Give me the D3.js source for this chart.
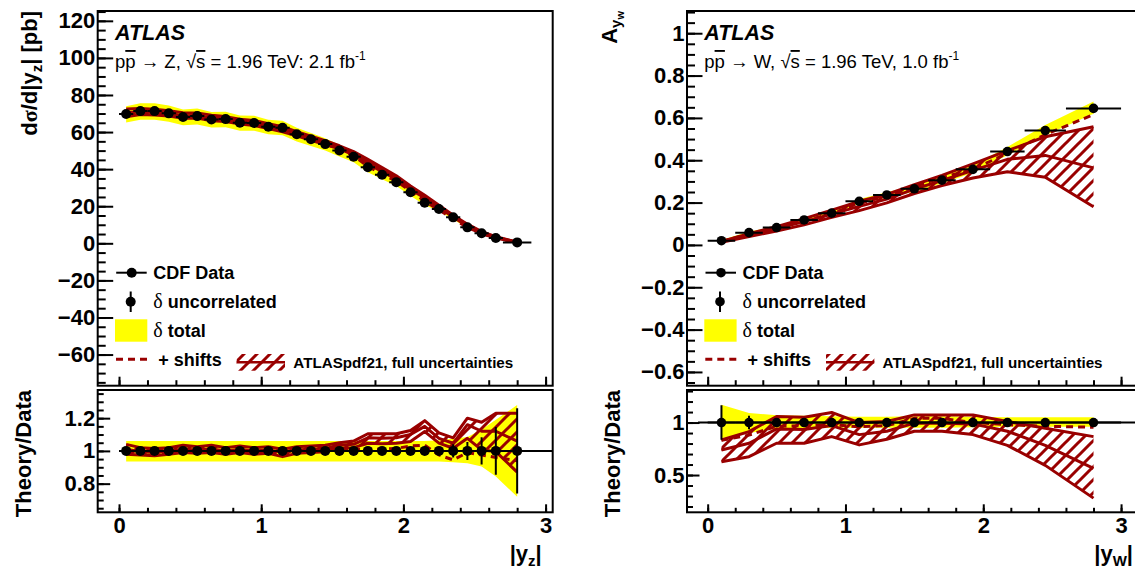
<!DOCTYPE html>
<html><head><meta charset="utf-8">
<script src="https://cdn.jsdelivr.net/npm/d3@7"></script>
<style>
body{margin:0;background:#fff;}
svg{display:block;font-family:"Liberation Sans",Arial,Helvetica,sans-serif;}
</style></head><body>
<svg id="c" width="1135" height="569"></svg>
<script>
// ---------------- DATA ----------------
// Z rapidity (left)
const zX   = [0.05,0.15,0.25,0.35,0.45,0.55,0.65,0.75,0.85,0.95,1.05,1.15,1.25,1.35,1.45,1.55,1.65,1.75,1.85,1.95,2.05,2.15,2.25,2.35,2.45,2.55,2.65,2.8];
const zXLo = [0,0.1,0.2,0.3,0.4,0.5,0.6,0.7,0.8,0.9,1.0,1.1,1.2,1.3,1.4,1.5,1.6,1.7,1.8,1.9,2.0,2.1,2.2,2.3,2.4,2.5,2.6,2.7];
const zXHi = [0.1,0.2,0.3,0.4,0.5,0.6,0.7,0.8,0.9,1.0,1.1,1.2,1.3,1.4,1.5,1.6,1.7,1.8,1.9,2.0,2.1,2.2,2.3,2.4,2.5,2.6,2.7,2.9];
const zData = [69.7,71.3,71.3,70.1,68.1,68.6,66.8,67.0,65.0,64.9,62.9,62.3,58.8,56.1,53.5,50.1,46.7,41.0,37.0,33.0,27.5,21.9,18.5,14.0,8.6,5.4,2.9,0.5];
const zErrRel = [0.006,0.006,0.006,0.006,0.006,0.006,0.006,0.006,0.006,0.006,0.006,0.006,0.006,0.006,0.006,0.006,0.006,0.006,0.006,0.008,0.012,0.018,0.025,0.04,0.055,0.083,0.146,0.26];
const zTotUp = [1.06,1.06,1.06,1.06,1.06,1.06,1.06,1.06,1.06,1.06,1.06,1.06,1.06,1.06,1.06,1.06,1.06,1.06,1.06,1.06,1.06,1.06,1.065,1.075,1.085,1.13,1.19,1.28];
const zTotLo = [0.935,0.935,0.935,0.935,0.935,0.935,0.935,0.935,0.935,0.935,0.935,0.935,0.935,0.935,0.935,0.935,0.935,0.935,0.935,0.935,0.935,0.935,0.935,0.93,0.925,0.905,0.843,0.72];
const zThUp  = [1.04,1.02,1.015,1.02,1.035,1.025,1.035,1.02,1.03,1.02,1.025,1.01,1.025,1.03,1.035,1.05,1.06,1.105,1.105,1.105,1.125,1.185,1.11,1.08,1.2,1.175,1.23,1.23];
const zThMid = [1.01,0.995,0.99,1.0,1.01,1.005,1.012,1.0,1.01,1.0,1.005,0.99,1.005,1.01,1.015,1.035,1.04,1.08,1.077,1.08,1.1,1.15,1.077,1.047,1.16,1.12,1.12,1.06];
const zThLo  = [0.98,0.975,0.97,0.98,0.99,0.985,0.99,0.98,0.99,0.98,0.985,0.965,0.985,0.99,0.995,1.016,1.02,1.047,1.043,1.047,1.057,1.118,1.047,1.016,1.077,1.006,0.996,0.87];
const zShift = [1.0,0.99,0.985,0.99,1.0,0.995,1.0,0.99,1.0,0.99,0.995,0.98,0.995,1.0,1.005,1.01,1.01,1.01,1.01,1.015,1.03,1.035,0.975,0.945,0.99,0.975,0.96,0.94];

// W asymmetry (right)
const wX   = [0.1,0.3,0.5,0.7,0.9,1.1,1.3,1.5,1.7,1.925,2.175,2.45,2.8];
const wXLo = [0,0.2,0.4,0.6,0.8,1.0,1.2,1.4,1.6,1.8,2.05,2.3,2.6];
const wXHi = [0.2,0.4,0.6,0.8,1.0,1.2,1.4,1.6,1.8,2.05,2.3,2.6,3.0];
const wData = [0.020,0.058,0.082,0.118,0.150,0.206,0.236,0.265,0.306,0.357,0.441,0.540,0.645];
const wErrRel = [0.165,0.065,0.03,0.03,0.04,0.03,0.03,0.03,0.025,0.025,0.025,0.025,0.03];
const wTotUp = [1.17,1.09,1.07,1.065,1.06,1.055,1.055,1.06,1.06,1.055,1.05,1.05,1.05];
const wTotLo = [0.85,0.9,0.94,0.945,0.95,0.95,0.95,0.95,0.95,0.955,0.96,0.96,0.96];
const wThUp  = [0.834,0.914,1.057,1.051,1.096,1.0,1.01,1.073,1.073,1.073,1.01,0.946,0.866];
const wThMid = [0.739,0.803,0.939,0.933,0.971,0.885,0.917,0.994,0.994,0.987,0.917,0.783,0.564];
const wThLo  = [0.627,0.675,0.803,0.803,0.866,0.787,0.841,0.917,0.917,0.885,0.783,0.592,0.28];
const wShift = [0.83,0.88,0.965,0.97,0.98,0.96,0.97,1.04,1.04,1.0,0.98,0.965,0.955];

// Tick labels
const xTicks = [0,1,2,3];
const xTickLabels = ["0","1","2","3"];
const zYTicks = [-60,-40,-20,0,20,40,60,80,100,120];
const zYTickLabels = ["\u221260","\u221240","\u221220","0","20","40","60","80","100","120"];
const zRTicks = [0.8,1.0,1.2];
const zRTickLabels = ["0.8","1","1.2"];
const wYTicks = [-0.6,-0.4,-0.2,0,0.2,0.4,0.6,0.8,1.0];
const wYTickLabels = ["\u22120.6","\u22120.4","\u22120.2","0","0.2","0.4","0.6","0.8","1"];
const wRTicks = [0.5,1.0];
const wRTickLabels = ["0.5","1"];

const legendLabels = ["CDF Data","uncorrelated","total","+ shifts","ATLASpdf21, full uncertainties"];

// ---------------- DRAWING ----------------
const FONT = '"Liberation Sans",Arial,Helvetica,sans-serif';
const RED = "#990000";
const YEL = "#ffff00";
const svg = d3.select("#c");
const defs = svg.append("defs");
const pat = defs.append("pattern").attr("id","hatch").attr("patternUnits","userSpaceOnUse")
  .attr("width",13).attr("height",13);
pat.append("path").attr("d","M-3,3 L3,-3 M0,13 L13,0 M10,16 L16,10")
  .attr("stroke",RED).attr("stroke-width",3).attr("fill","none");

function range(a,b,s){const r=[];for(let v=a;v<=b+1e-9;v+=s)r.push(+v.toFixed(4));return r;}

function yAxis(g, y, x0, majors, labels, minors, majLen, minLen){
  g.append("g").attr("transform",`translate(${x0},0)`)
    .call(d3.axisLeft(y).tickValues(minors).tickFormat("").tickSizeInner(-minLen).tickSizeOuter(0))
    .call(s=>s.select(".domain").remove())
    .selectAll("line").attr("stroke","#000").attr("stroke-width",2);
  const a = g.append("g").attr("transform",`translate(${x0},0)`)
    .call(d3.axisLeft(y).tickValues(majors).tickFormat((d,i)=>labels[i]).tickSizeInner(-majLen).tickSizeOuter(0).tickPadding(2.5));
  a.select(".domain").remove();
  a.attr("font-size",22).attr("font-family",FONT).attr("font-weight","bold");
  a.selectAll("line").attr("stroke","#000").attr("stroke-width",2);
  a.selectAll("text").attr("fill","#000");
}
function xAxis(g, x, y0, majors, labels, minors, majLen, minLen, showLabels){
  g.append("g").attr("transform",`translate(0,${y0})`)
    .call(d3.axisBottom(x).tickValues(minors).tickFormat("").tickSizeInner(-minLen).tickSizeOuter(0))
    .call(s=>s.select(".domain").remove())
    .selectAll("line").attr("stroke","#000").attr("stroke-width",2);
  const a = g.append("g").attr("transform",`translate(0,${y0})`)
    .call(d3.axisBottom(x).tickValues(majors).tickFormat((d,i)=>showLabels?labels[i]:"").tickSizeInner(-majLen).tickSizeOuter(0).tickPadding(5));
  a.select(".domain").remove();
  a.attr("font-size",22).attr("font-family",FONT).attr("font-weight","bold");
  a.selectAll("line").attr("stroke","#000").attr("stroke-width",2);
  a.selectAll("text").attr("fill","#000");
}

let clipN = 0;
function clip(x0,y0,x1,y1){
  const id = "clip"+(clipN++);
  defs.append("clipPath").attr("id",id).append("rect").attr("x",x0).attr("y",y0).attr("width",x1-x0).attr("height",y1-y0);
  return `url(#${id})`;
}

function drawPanel(P){
  const {x, yT, yR, X, XLo, XHi, D, E, TU, TL, HU, HM, HL, SH, fx0, fx1, r} = P;
  const idx = d3.range(X.length);
  // ---- top ----
  const gT = svg.append("g").attr("clip-path", clip(fx0, 11, fx1, 385.7));
  gT.append("path").attr("fill",YEL)
    .attr("d", d3.area().x(i=>x(X[i])).y0(i=>yT(D[i]*TL[i])).y1(i=>yT(D[i]*TU[i]))(idx));
  gT.append("path").attr("fill","url(#hatch)")
    .attr("d", d3.area().x(i=>x(X[i])).y0(i=>yT(D[i]*HL[i])).y1(i=>yT(D[i]*HU[i]))(idx));
  [HU,HM,HL].forEach(arr=>{
    gT.append("path").attr("fill","none").attr("stroke",RED).attr("stroke-width",3).attr("stroke-linejoin","round")
      .attr("d", d3.line().x(i=>x(X[i])).y(i=>yT(D[i]*arr[i]))(idx));
  });
  gT.append("path").attr("fill","none").attr("stroke",RED).attr("stroke-width",3).attr("stroke-dasharray","7,5")
    .attr("d", d3.line().x(i=>x(X[i])).y(i=>yT(D[i]*SH[i]))(idx));
  idx.forEach(i=>{
    gT.append("line").attr("x1",x(XLo[i])).attr("x2",x(XHi[i])).attr("y1",yT(D[i])).attr("y2",yT(D[i])).attr("stroke","#000").attr("stroke-width",2);
    gT.append("line").attr("x1",x(X[i])).attr("x2",x(X[i])).attr("y1",yT(D[i]*(1-E[i]))).attr("y2",yT(D[i]*(1+E[i]))).attr("stroke","#000").attr("stroke-width",2);
    gT.append("circle").attr("cx",x(X[i])).attr("cy",yT(D[i])).attr("r",r).attr("fill","#000");
  });
  // ---- ratio ----
  const gR = svg.append("g").attr("clip-path", clip(fx0, 390, fx1, 512.3));
  gR.append("path").attr("fill",YEL)
    .attr("d", d3.area().x(i=>x(X[i])).y0(i=>yR(TL[i])).y1(i=>yR(TU[i]))(idx));
  gR.append("path").attr("fill","url(#hatch)")
    .attr("d", d3.area().x(i=>x(X[i])).y0(i=>yR(HL[i])).y1(i=>yR(HU[i]))(idx));
  [HU,HM,HL].forEach(arr=>{
    gR.append("path").attr("fill","none").attr("stroke",RED).attr("stroke-width",3).attr("stroke-linejoin","round")
      .attr("d", d3.line().x(i=>x(X[i])).y(i=>yR(arr[i]))(idx));
  });
  gR.append("path").attr("fill","none").attr("stroke",RED).attr("stroke-width",3).attr("stroke-dasharray","7,5")
    .attr("d", d3.line().x(i=>x(X[i])).y(i=>yR(SH[i]))(idx));
  gR.append("line").attr("x1",x(P.lineStart)).attr("x2",fx1).attr("y1",yR(1)).attr("y2",yR(1)).attr("stroke","#000").attr("stroke-width",2);
  idx.forEach(i=>{
    gR.append("line").attr("x1",x(XLo[i])).attr("x2",x(XHi[i])).attr("y1",yR(1)).attr("y2",yR(1)).attr("stroke","#000").attr("stroke-width",2);
    gR.append("line").attr("x1",x(X[i])).attr("x2",x(X[i])).attr("y1",yR(1-E[i])).attr("y2",yR(1+E[i])).attr("stroke","#000").attr("stroke-width",2);
    gR.append("circle").attr("cx",x(X[i])).attr("cy",yR(1)).attr("r",r).attr("fill","#000");
  });
  // frames
  svg.append("rect").attr("x",fx0).attr("y",11).attr("width",fx1-fx0).attr("height",385.7-11).attr("fill","none").attr("stroke","#000").attr("stroke-width",2);
  svg.append("rect").attr("x",fx0).attr("y",390).attr("width",fx1-fx0).attr("height",512.3-390).attr("fill","none").attr("stroke","#000").attr("stroke-width",2);
  // axes
  const g = svg.append("g");
  yAxis(g, yT, fx0, P.yTicks, P.yLabels, P.yMinor, 15.5, 8);
  yAxis(g, yR, fx0, P.rTicks, P.rLabels, P.rMinor, 12.5, 6);
  xAxis(g, x, 385.7, xTicks, xTickLabels, P.xMinor, 9, 5.5, false);
  xAxis(g, x, 512.3, xTicks, xTickLabels, P.xMinor, 8, 4.5, true);

  // legend
  const L = fx0;
  const lg = svg.append("g").attr("font-family",FONT).attr("font-weight","bold").attr("font-size",18).attr("fill","#000");
  lg.append("line").attr("x1",L+18.5).attr("x2",L+49).attr("y1",272.7).attr("y2",272.7).attr("stroke","#000").attr("stroke-width",2);
  lg.append("circle").attr("cx",L+34).attr("cy",272.7).attr("r",r).attr("fill","#000");
  lg.append("text").attr("x",L+55.6).attr("y",279.2).text(legendLabels[0]);
  lg.append("line").attr("x1",L+33).attr("x2",L+33).attr("y1",291.5).attr("y2",312).attr("stroke","#000").attr("stroke-width",2);
  lg.append("circle").attr("cx",L+33).attr("cy",301.7).attr("r",r).attr("fill","#000");
  const t1 = lg.append("text").attr("x",L+55.6).attr("y",308.2);
  t1.append("tspan").attr("font-family",'"Liberation Serif","DejaVu Serif",serif').attr("font-weight","normal").attr("font-size",20).text("\u03b4");
  t1.append("tspan").text(" "+legendLabels[1]);
  lg.append("rect").attr("x",L+17.3).attr("y",319.3).attr("width",32.3).attr("height",22.4).attr("fill",YEL);
  const t2 = lg.append("text").attr("x",L+55.6).attr("y",337.2);
  t2.append("tspan").attr("font-family",'"Liberation Serif","DejaVu Serif",serif').attr("font-weight","normal").attr("font-size",20).text("\u03b4");
  t2.append("tspan").text(" "+legendLabels[2]);
  lg.append("line").attr("x1",L+18.3).attr("x2",L+49.6).attr("y1",359.3).attr("y2",359.3).attr("stroke",RED).attr("stroke-width",3).attr("stroke-dasharray","7,5");
  lg.append("text").attr("x",L+60.6).attr("y",366.2).text(legendLabels[3]);
  lg.append("rect").attr("x",L+139).attr("y",354).attr("width",48.3).attr("height",16.7).attr("fill","url(#hatch)");
  lg.append("line").attr("x1",L+139).attr("x2",L+187.3).attr("y1",362.3).attr("y2",362.3).attr("stroke",RED).attr("stroke-width",2.5);
  lg.append("text").attr("x",L+195.6).attr("y",368.3).attr("font-size",15.2).text(legendLabels[4]);

  // ATLAS + subtitle
  svg.append("text").attr("x",L+17.3).attr("y",40).attr("font-family",FONT).attr("font-weight","bold").attr("font-style","italic").attr("font-size",21.5).text("ATLAS");
  const st = svg.append("text").attr("x",L+17.3).attr("y",68).attr("font-family",FONT).attr("font-size",18.5);
  st.append("tspan").text("p");
  st.append("tspan").style("text-decoration","overline").text("p");
  st.append("tspan").text(" \u2192 "+P.proc+", \u221a");
  st.append("tspan").style("text-decoration","overline").text("s");
  st.append("tspan").text(P.energy);
  st.append("tspan").attr("font-size",12).attr("dy",-8).text("-1");
}

// scales
const xZ = d3.scaleLinear().domain([-0.15,3.05]).range([97.7,552.7]);
const yZT = d3.scaleLinear().domain([-76.8,125.3]).range([385.7,11]);
const yZR = d3.scaleLinear().domain([0.625,1.372]).range([512.3,390]);
const xW = d3.scaleLinear().domain([-0.15,3.12]).range([687,1137.6]);
const yWT = d3.scaleLinear().domain([-0.665,1.105]).range([385.7,11]);
const yWR = d3.scaleLinear().domain([0.145,1.31]).range([512.3,390]);

drawPanel({x:xZ, yT:yZT, yR:yZR, X:zX, XLo:zXLo, XHi:zXHi, D:zData, E:zErrRel, TU:zTotUp, TL:zTotLo,
  HU:zThUp, HM:zThMid, HL:zThLo, SH:zShift, fx0:97.7, fx1:552.7, r:5, lineStart:0,
  yTicks:zYTicks, yLabels:zYTickLabels, yMinor:range(-75,125,5),
  rTicks:zRTicks, rLabels:zRTickLabels, rMinor:range(0.65,1.35,0.05),
  xMinor:range(0,3,0.2), proc:"Z", energy:" = 1.96 TeV: 2.1 fb"});
drawPanel({x:xW, yT:yWT, yR:yWR, X:wX, XLo:wXLo, XHi:wXHi, D:wData, E:wErrRel, TU:wTotUp, TL:wTotLo,
  HU:wThUp, HM:wThMid, HL:wThLo, SH:wShift, fx0:687, fx1:1137.6, r:4.8, lineStart:-0.07,
  yTicks:wYTicks, yLabels:wYTickLabels, yMinor:range(-0.65,1.1,0.05),
  rTicks:wRTicks, rLabels:wRTickLabels, rMinor:range(0.2,1.3,0.1),
  xMinor:range(0,3,0.2), proc:"W", energy:" = 1.96 TeV, 1.0 fb"});

// axis titles
function title(x,y,rot,anchor,parts){
  const t = svg.append("text").attr("transform",`translate(${x},${y})`+(rot?" rotate(-90)":""))
    .attr("text-anchor",anchor).attr("font-family",FONT).attr("font-weight","bold").attr("font-size",22).attr("fill","#000");
  parts.forEach(p=>{const s=t.append("tspan").text(p.t); if(p.dy)s.attr("dy",p.dy); if(p.fs)s.attr("font-size",p.fs); if(p.ff)s.attr("font-family",p.ff);});
}
title(36.5,11,true,"end",[{t:"d"},{t:"\u03c3",ff:'"Liberation Serif","DejaVu Serif",serif'},{t:"/d|y"},{t:"z",dy:5,fs:15},{t:"| [pb]",dy:-5}]);
title(31,390,true,"end",[{t:"Theory/Data"}]);
title(616.5,11,true,"end",[{t:"A"},{t:"y",dy:4,fs:15},{t:"w",dy:3,fs:11}]);
title(620,390,true,"end",[{t:"Theory/Data"}]);
title(541.7,561,false,"end",[{t:"|y"},{t:"z",dy:5,fs:15},{t:"|",dy:-5}]);
title(1133,561,false,"end",[{t:"|y"},{t:"W",dy:5,fs:15},{t:"|",dy:-5}]);
</script>
</body></html>
